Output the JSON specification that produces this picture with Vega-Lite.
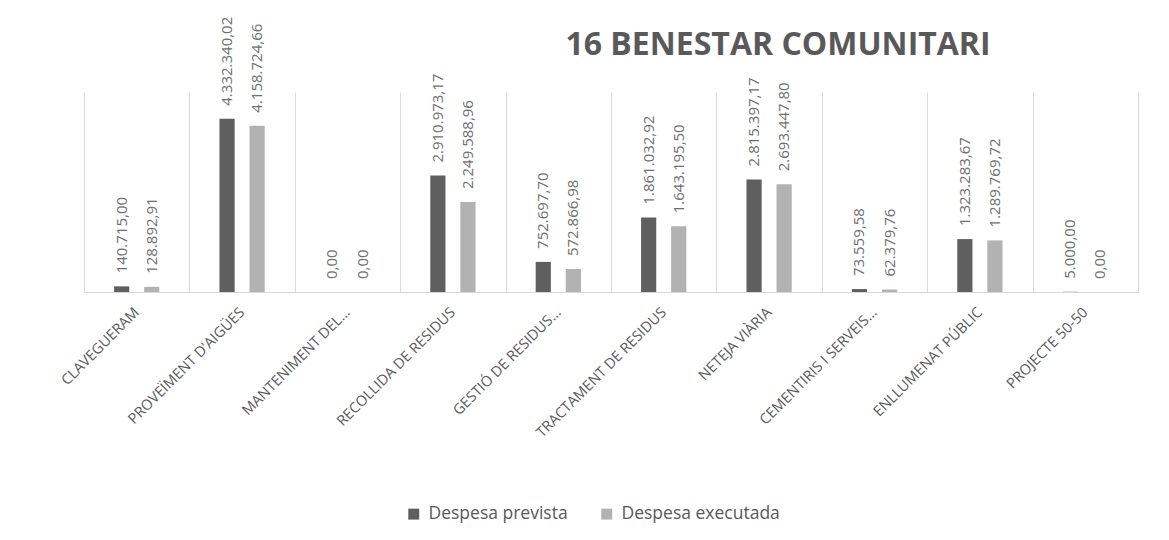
{
  "$schema": "https://vega.github.io/schema/vega-lite/v6.json",
  "autosize": "none",
  "width": 1054,
  "height": 200,
  "padding": {"left": 84, "top": 92, "right": 31, "bottom": 248},
  "background": "#ffffff",
  "title": {
    "text": "16 BENESTAR COMUNITARI",
    "anchor": "middle",
    "frame": "group",
    "dx": 167,
    "offset": -70,
    "baseline": "alphabetic",
    "font": "Open Sans",
    "fontSize": 32,
    "fontWeight": "bold",
    "color": "#595959"
  },
  "data": {
    "values": [
      {"category": "CLAVEGUERAM", "series": "Despesa prevista", "value": 140715.00},
      {"category": "CLAVEGUERAM", "series": "Despesa executada", "value": 128892.91},
      {"category": "PROVEÏMENT D'AIGÜES", "series": "Despesa prevista", "value": 4332340.02},
      {"category": "PROVEÏMENT D'AIGÜES", "series": "Despesa executada", "value": 4158724.66},
      {"category": "MANTENIMENT DEL…", "series": "Despesa prevista", "value": 0},
      {"category": "MANTENIMENT DEL…", "series": "Despesa executada", "value": 0},
      {"category": "RECOLLIDA DE RESIDUS", "series": "Despesa prevista", "value": 2910973.17},
      {"category": "RECOLLIDA DE RESIDUS", "series": "Despesa executada", "value": 2249588.96},
      {"category": "GESTIÓ DE RESIDUS…", "series": "Despesa prevista", "value": 752697.70},
      {"category": "GESTIÓ DE RESIDUS…", "series": "Despesa executada", "value": 572866.98},
      {"category": "TRACTAMENT DE RESIDUS", "series": "Despesa prevista", "value": 1861032.92},
      {"category": "TRACTAMENT DE RESIDUS", "series": "Despesa executada", "value": 1643195.50},
      {"category": "NETEJA VIÀRIA", "series": "Despesa prevista", "value": 2815397.17},
      {"category": "NETEJA VIÀRIA", "series": "Despesa executada", "value": 2693447.80},
      {"category": "CEMENTIRIS I SERVEIS…", "series": "Despesa prevista", "value": 73559.58},
      {"category": "CEMENTIRIS I SERVEIS…", "series": "Despesa executada", "value": 62379.76},
      {"category": "ENLLUMENAT PÚBLIC", "series": "Despesa prevista", "value": 1323283.67},
      {"category": "ENLLUMENAT PÚBLIC", "series": "Despesa executada", "value": 1289769.72},
      {"category": "PROJECTE 50-50", "series": "Despesa prevista", "value": 5000.00},
      {"category": "PROJECTE 50-50", "series": "Despesa executada", "value": 0}
    ]
  },
  "encoding": {
    "x": {
      "field": "category",
      "type": "nominal",
      "sort": null,
      "scale": {"paddingInner": 0, "paddingOuter": 0},
      "axis": {
        "title": null,
        "orient": "bottom",
        "tickBand": "extent",
        "grid": true,
        "gridColor": "#d9d9d9",
        "domainColor": "#d9d9d9",
        "ticks": false,
        "labelAngle": -45,
        "labelAlign": "right",
        "labelBaseline": "middle",
        "labelPadding": 18,
        "labelFont": "Open Sans",
        "labelFontSize": 14.5,
        "labelColor": "#595959",
        "labelLimit": 400
      }
    },
    "xOffset": {
      "field": "series",
      "type": "nominal",
      "sort": ["Despesa prevista", "Despesa executada"],
      "scale": {"paddingInner": 0.495, "paddingOuter": 1.15}
    },
    "y": {
      "field": "value",
      "type": "quantitative",
      "scale": {"domain": [0, 5000000], "nice": false},
      "axis": null
    }
  },
  "layer": [
    {
      "mark": {"type": "bar"},
      "encoding": {
        "color": {
          "field": "series",
          "type": "nominal",
          "sort": ["Despesa prevista", "Despesa executada"],
          "scale": {"domain": ["Despesa prevista", "Despesa executada"], "range": ["#5f5f5f", "#b2b2b2"]},
          "legend": {
            "title": null,
            "orient": "none",
            "direction": "horizontal",
            "legendX": 321,
            "legendY": 413,
            "symbolType": "square",
            "symbolSize": 120,
            "symbolStrokeWidth": 0,
            "labelFont": "Open Sans",
            "labelFontSize": 17.5,
            "labelColor": "#595959",
            "labelOffset": 6,
            "columnPadding": 30
          }
        }
      }
    },
    {
      "mark": {"type": "text", "angle": 270, "align": "left", "baseline": "middle", "dx": 13, "font": "Open Sans", "fontSize": 15, "color": "#6f6f6f"},
      "encoding": {
        "text": {"field": "value", "type": "quantitative", "format": ",.2f"}
      }
    }
  ],
  "config": {
    "locale": {"number": {"decimal": ",", "thousands": ".", "grouping": [3], "currency": ["", " €"]}},
    "view": {"stroke": null}
  }
}
